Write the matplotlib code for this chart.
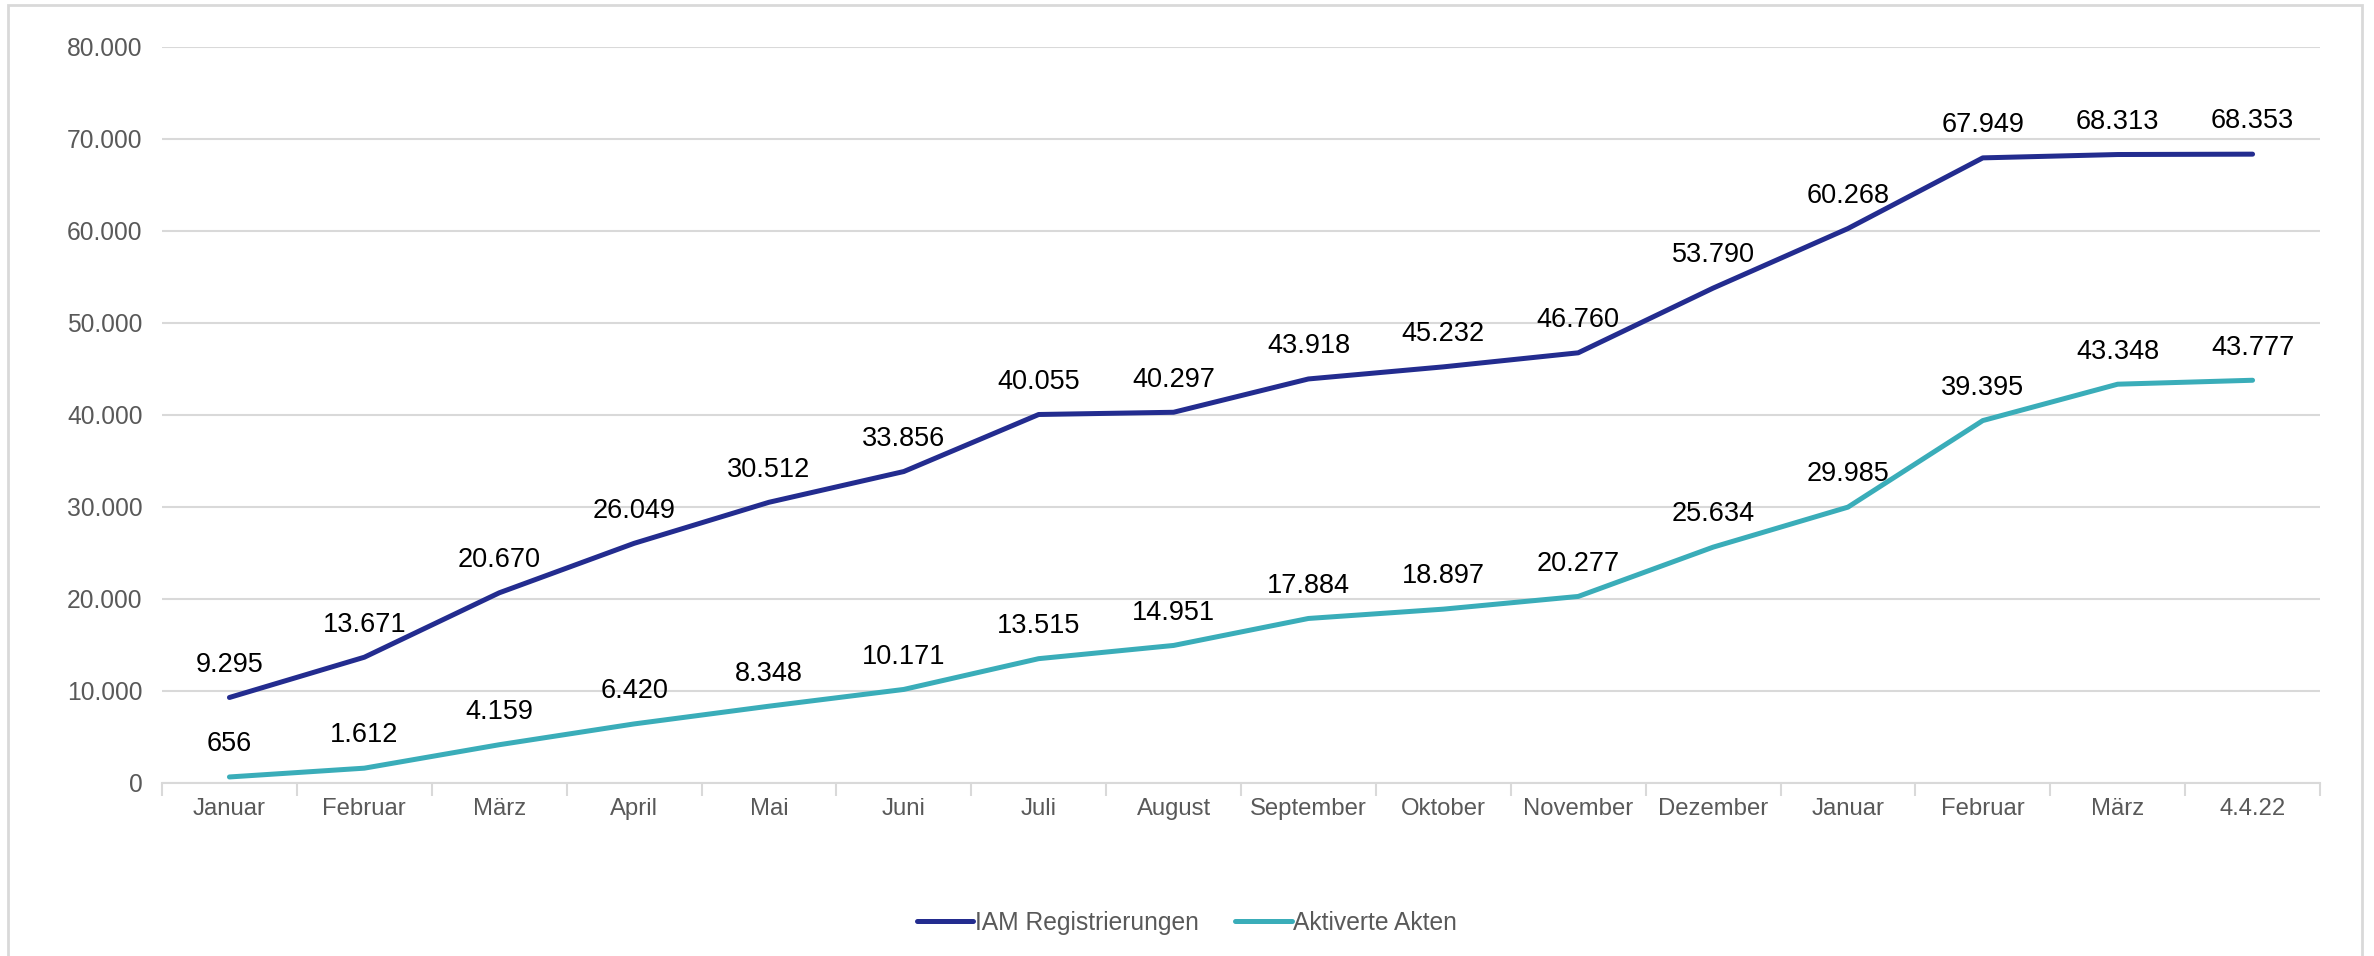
import matplotlib
matplotlib.use("Agg")
import matplotlib.pyplot as plt
from matplotlib.patches import Rectangle
import numpy as np

categories = ["Januar", "Februar", "März", "April", "Mai", "Juni", "Juli", "August",
              "September", "Oktober", "November", "Dezember", "Januar", "Februar", "März", "4.4.22"]
iam = [9295, 13671, 20670, 26049, 30512, 33856, 40055, 40297,
       43918, 45232, 46760, 53790, 60268, 67949, 68313, 68353]
akten = [656, 1612, 4159, 6420, 8348, 10171, 13515, 14951,
         17884, 18897, 20277, 25634, 29985, 39395, 43348, 43777]
series_names = ["IAM Registrierungen", "Aktiverte Akten"]
colors = ["#232C8F", "#3AADB9"]
yticks = [0, 10000, 20000, 30000, 40000, 50000, 60000, 70000, 80000]

plt.rcParams['font.family'] = ['Liberation Sans', 'DejaVu Sans']

fig = plt.figure(figsize=(23.74, 9.56), dpi=100)
ax = fig.add_axes([162/2374, 1-783/956, (2320-162)/2374, (783-47)/956])

x = np.arange(len(categories))
for vals, name, c in zip([iam, akten], series_names, colors):
    ax.plot(x, vals, color=c, lw=3.6, solid_capstyle='round', solid_joinstyle='round', label=name)
    for xi, v in zip(x, vals):
        s = f"{v:,}".replace(",", ".")
        ax.annotate(s, (xi, v), xytext=(0, 18.5), textcoords='offset points',
                    ha='center', va='baseline', fontsize=19.5, color='black')

ax.set_xlim(-0.5, len(categories)-0.5)
ax.set_ylim(0, 80000)
ax.set_yticks(yticks)
ax.set_yticklabels([f"{t:,}".replace(",", ".") for t in yticks])
ax.set_xticks(x)
ax.set_xticklabels(categories)
ax.set_xticks(np.arange(-0.5, len(categories), 1), minor=True)
ax.tick_params(axis='x', which='major', length=0, pad=11, labelsize=17.2, labelcolor='#595959')
ax.tick_params(axis='x', which='minor', length=9, width=1.5, color='#D9D9D9')
ax.tick_params(axis='y', length=0, pad=14, labelsize=17.7, labelcolor='#595959')
ax.grid(axis='y', color='#D9D9D9', lw=1.5)
ax.set_axisbelow(True)
for sp in ['left', 'right', 'top']:
    ax.spines[sp].set_visible(False)
ax.spines['bottom'].set_color('#D9D9D9')
ax.spines['bottom'].set_linewidth(1.5)

leg = fig.legend(loc='center', bbox_to_anchor=(0.5, 1-923/956), ncol=2, frameon=False,
                 fontsize=17.7, handlelength=2.3, handletextpad=0.05, columnspacing=1.5)
for t in leg.get_texts():
    t.set_color('#595959')

fig.patches.append(Rectangle((8/2374, -0.01), (2362-8)/2374, 1-5/956+0.01,
                             transform=fig.transFigure, fill=False,
                             edgecolor='#D9D9D9', lw=2))

fig.savefig("out.png", dpi=100)
